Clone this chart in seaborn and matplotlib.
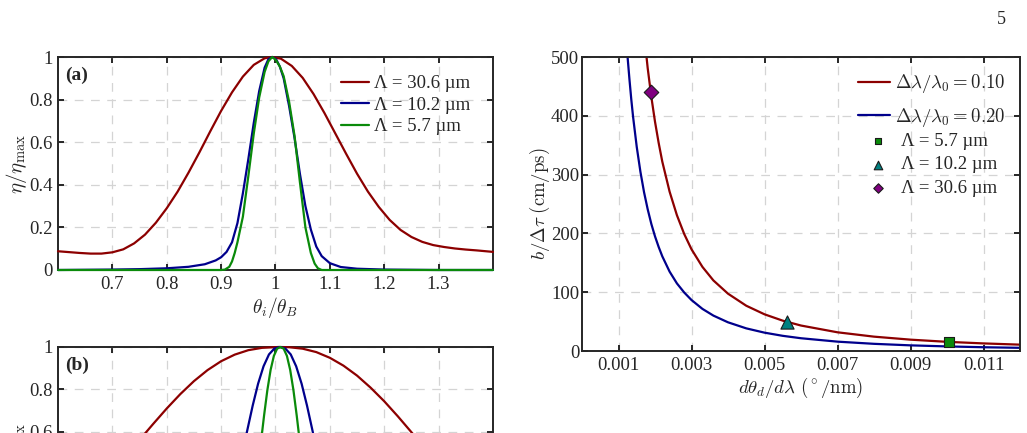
import numpy as np
import pandas as pd
import seaborn as sns
import matplotlib.pyplot as plt
from matplotlib.ticker import FuncFormatter

# ---- panel (a): normalised efficiency vs theta_i / theta_B ----
th_red_a = [0.60, 0.62, 0.64, 0.66, 0.68, 0.70, 0.72, 0.74, 0.76, 0.78, 0.80, 0.82, 0.84,
            0.86, 0.88, 0.90, 0.92, 0.94, 0.96, 0.98, 0.994, 1.01, 1.03, 1.05, 1.07, 1.09,
            1.11, 1.13, 1.15, 1.17, 1.19, 1.21, 1.23, 1.25, 1.27, 1.29, 1.31, 1.33, 1.35,
            1.37, 1.40]
eta_red_a = [0.088, 0.084, 0.080, 0.077, 0.077, 0.083, 0.097, 0.125, 0.166, 0.222, 0.290,
             0.368, 0.457, 0.552, 0.651, 0.747, 0.834, 0.908, 0.963, 0.994, 1.0, 0.992,
             0.958, 0.902, 0.826, 0.737, 0.641, 0.545, 0.452, 0.368, 0.296, 0.235, 0.188,
             0.155, 0.132, 0.117, 0.108, 0.101, 0.096, 0.092, 0.085]

th_blue_a = [0.60, 0.70, 0.75, 0.80, 0.84, 0.87, 0.89, 0.90, 0.91, 0.92, 0.93, 0.94, 0.95,
             0.96, 0.97, 0.98, 0.987, 0.994, 1.001, 1.008, 1.015, 1.025, 1.035, 1.045,
             1.055, 1.065, 1.075, 1.085, 1.10, 1.12, 1.15, 1.20, 1.30, 1.40]
eta_blue_a = [0.0, 0.002, 0.004, 0.008, 0.015, 0.027, 0.045, 0.06, 0.085, 0.13, 0.22, 0.36,
              0.52, 0.69, 0.84, 0.95, 0.99, 1.0, 0.99, 0.955, 0.90, 0.77, 0.62, 0.45, 0.30,
              0.19, 0.11, 0.065, 0.032, 0.014, 0.006, 0.002, 0.0, 0.0]

th_green_a = [0.60, 0.90, 0.907, 0.915, 0.92, 0.925, 0.93, 0.94, 0.95, 0.96, 0.97, 0.98,
              0.987, 0.994, 1.001, 1.008, 1.015, 1.025, 1.035, 1.045, 1.055, 1.065, 1.072,
              1.078, 1.085, 1.40]
eta_green_a = [0.0, 0.0, 0.002, 0.015, 0.04, 0.08, 0.13, 0.25, 0.44, 0.64, 0.81, 0.93,
               0.98, 1.0, 0.985, 0.955, 0.91, 0.79, 0.63, 0.41, 0.20, 0.08, 0.03, 0.008,
               0.0, 0.0]

# ---- panel (b) (only its top part is on the page) ----
th_red_b = [0.600, 0.625, 0.650, 0.675, 0.700, 0.725, 0.750, 0.775, 0.800, 0.825, 0.850,
            0.875, 0.900, 0.925, 0.950, 0.975, 1.006, 1.025, 1.050, 1.075, 1.100, 1.125,
            1.150, 1.175, 1.200, 1.225, 1.250, 1.275, 1.300, 1.325, 1.350, 1.375, 1.400]
eta_red_b = [0.175, 0.224, 0.280, 0.344, 0.413, 0.486, 0.562, 0.637, 0.710, 0.778, 0.839,
             0.891, 0.933, 0.964, 0.985, 0.996, 1.0, 0.999, 0.992, 0.976, 0.949, 0.912,
             0.865, 0.808, 0.744, 0.673, 0.598, 0.522, 0.448, 0.376, 0.310, 0.250, 0.197]

th_blue_b = [0.838, 0.868, 0.888, 0.908, 0.918, 0.928, 0.938, 0.948, 0.958, 0.968, 0.978,
             0.988, 0.998, 1.008, 1.018, 1.028, 1.038, 1.048, 1.058, 1.068, 1.078, 1.088,
             1.098, 1.108, 1.128, 1.148, 1.178]
eta_blue_b = [0.002, 0.022, 0.071, 0.181, 0.265, 0.368, 0.484, 0.606, 0.723, 0.827, 0.909,
              0.965, 0.993, 1.0, 0.993, 0.965, 0.909, 0.827, 0.723, 0.606, 0.484, 0.368,
              0.265, 0.181, 0.071, 0.022, 0.002]

th_green_b = [0.914, 0.934, 0.949, 0.959, 0.967, 0.973, 0.979, 0.985, 0.991, 0.997, 1.003,
              1.009, 1.015, 1.021, 1.027, 1.033, 1.039, 1.045, 1.051, 1.059, 1.069, 1.084,
              1.104]
eta_green_b = [0.002, 0.030, 0.128, 0.264, 0.417, 0.546, 0.677, 0.796, 0.892, 0.958, 0.992,
               1.0, 0.992, 0.958, 0.892, 0.796, 0.677, 0.546, 0.417, 0.264, 0.128, 0.030,
               0.002]

# ---- right panel: b/dtau vs dtheta_d/dlambda ----
disp = [0.0012, 0.00125, 0.0013, 0.00135, 0.0014, 0.0015, 0.0016, 0.0017, 0.0018, 0.0019,
        0.0020, 0.0021, 0.0022, 0.0024, 0.0026, 0.0028, 0.0030, 0.0033, 0.0036, 0.0040,
        0.0045, 0.0050, 0.0055, 0.0060, 0.0070, 0.0080, 0.0090, 0.0100, 0.0110, 0.0120]
speed_010 = [1083, 998, 923, 856, 796, 693, 609, 540, 481, 432, 390, 354, 322, 271, 231,
             199, 173, 143, 120, 97.5, 77, 62.4, 51.6, 43.3, 31.8, 24.4, 19.3, 15.6, 12.9,
             10.8]
speed_020 = [542, 499, 462, 428, 398, 347, 305, 270, 241, 216, 195, 177, 161, 135, 115,
             99.5, 86.7, 71.6, 60.2, 48.8, 38.5, 31.2, 25.8, 21.7, 15.9, 12.2, 9.6, 7.8,
             6.4, 5.4]

grating_labels = ['Λ = 5.7 µm', 'Λ = 10.2 µm', 'Λ = 30.6 µm']
grating_disp = [0.01006, 0.00563, 0.00188]
grating_speed = [15, 49, 440]
curve_labels = ['Λ = 30.6 µm', 'Λ = 10.2 µm', 'Λ = 5.7 µm']

RED = '#8c0000'
BLUE = '#00008c'
GREEN = '#0a8a0a'
INK = '#262626'

sns.set_theme(style='white')
plt.rcParams.update({
    'font.family': 'serif',
    'font.serif': ['Liberation Serif', 'DejaVu Serif'],
    'mathtext.fontset': 'cm',
    'font.size': 13.5,
    'axes.edgecolor': INK,
    'axes.linewidth': 1.4,
    'xtick.direction': 'in', 'ytick.direction': 'in',
    'xtick.top': True, 'ytick.right': True,
    'xtick.bottom': True, 'ytick.left': True,
    'xtick.major.size': 4, 'ytick.major.size': 4,
    'xtick.major.width': 1.4, 'ytick.major.width': 1.4,
    'xtick.color': INK, 'ytick.color': INK,
    'xtick.labelsize': 13.5, 'ytick.labelsize': 13.5,
    'xtick.major.pad': 4, 'ytick.major.pad': 4,
    'axes.labelcolor': INK,
    'text.color': INK,
})

fig = plt.figure(figsize=(10.27, 4.33), dpi=100)
W, H = 1027, 433


def box(l, t, r, b):
    return [l / W, 1 - b / H, (r - l) / W, (b - t) / H]


ax_a = fig.add_axes(box(58, 57, 493, 270))
ax_b = fig.add_axes(box(58, 347, 493, 559))
ax_r = fig.add_axes(box(582, 57, 1020, 351))

fmt = FuncFormatter(lambda v, p: '%g' % round(v, 4))
grid_kw = dict(color='#d4d4d4', lw=0.9, ls=(0, (7, 6)))

for ax, curves, tag in [
    (ax_a, [(th_red_a, eta_red_a, RED), (th_blue_a, eta_blue_a, BLUE),
            (th_green_a, eta_green_a, GREEN)], '(a)'),
    (ax_b, [(th_red_b, eta_red_b, RED), (th_blue_b, eta_blue_b, BLUE),
            (th_green_b, eta_green_b, GREEN)], '(b)'),
]:
    for (xs, ys, c), nm in zip(curves, curve_labels):
        sns.lineplot(x=xs, y=ys, ax=ax, color=c, lw=1.6, label=nm, estimator=None,
                     clip_on=False, zorder=3)
    ax.set_xlim(0.6, 1.4)
    ax.set_ylim(0, 1)
    ax.set_xticks([0.7, 0.8, 0.9, 1.0, 1.1, 1.2, 1.3])
    ax.set_yticks([0, 0.2, 0.4, 0.6, 0.8, 1.0])
    ax.xaxis.set_major_formatter(fmt)
    ax.yaxis.set_major_formatter(fmt)
    ax.grid(True, **grid_kw)
    ax.set_ylabel('$\\eta/\\eta_{\\max}$', fontsize=15, labelpad=0)
    ax.text(0.016, 0.955, tag, transform=ax.transAxes, va='top', ha='left',
            fontweight='bold', fontsize=14)
    for s in ax.spines.values():
        s.set_zorder(2.5)

ax_a.legend(loc='upper left', bbox_to_anchor=(0.651, 0.915), frameon=False,
            borderpad=0, borderaxespad=0, handlelength=1.5, handletextpad=0.25,
            labelspacing=0.24, fontsize=13.5)
ax_b.get_legend().remove()
ax_b.tick_params(labelbottom=False)
ax_a.set_xlabel('$\\theta_i/\\theta_B$', fontsize=14, labelpad=2)

# right panel
sns.lineplot(x=disp, y=speed_010, ax=ax_r, color=RED, lw=1.6, estimator=None,
             label='$\\Delta\\lambda/\\lambda_0 = 0.10$')
sns.lineplot(x=disp, y=speed_020, ax=ax_r, color=BLUE, lw=1.6, estimator=None,
             label='$\\Delta\\lambda/\\lambda_0 = 0.20$')
mk = [('s', GREEN, 55), ('^', '#008080', 90), ('D', '#800080', 55)]
for (m, c, s), xv, yv, lab in zip(mk, grating_disp, grating_speed, grating_labels):
    sns.scatterplot(x=[xv], y=[yv], ax=ax_r, marker=m, color=c, s=s, edgecolor='#1a1a1a',
                    linewidth=0.8, label=lab, zorder=4)

ax_r.set_xlim(0, 0.012)
ax_r.set_ylim(0, 500)
ax_r.set_xticks([0.001, 0.003, 0.005, 0.007, 0.009, 0.011])
ax_r.set_yticks([0, 100, 200, 300, 400, 500])
ax_r.xaxis.set_major_formatter(fmt)
ax_r.tick_params(axis='y', pad=2)
ax_r.grid(True, **grid_kw)
ax_r.set_xlabel('$d\\theta_d/d\\lambda\\ (^\\circ/\\mathrm{nm})$', fontsize=13.5, labelpad=2)
ax_r.set_ylabel('$b/\\Delta\\tau\\ \\mathrm{(cm/ps)}$', fontsize=13.5, labelpad=-1)

h, l = ax_r.get_legend_handles_labels()
leg1 = ax_r.legend(h[:2], l[:2], loc='upper left', bbox_to_anchor=(0.630, 0.948),
                   frameon=False, borderpad=0, borderaxespad=0, handlelength=1.7,
                   handletextpad=0.3, labelspacing=0.55, fontsize=13.5)
ax_r.add_artist(leg1)
ax_r.legend(h[2:], l[2:], loc='upper left', bbox_to_anchor=(0.655, 0.742), frameon=False,
            borderpad=0, borderaxespad=0, handlelength=1.0, handletextpad=0.7,
            labelspacing=0.34, fontsize=13.5, markerscale=0.65)

fig.text(0.9755, 0.975, '5', ha='center', va='top', fontsize=13)

fig.savefig('out.png', dpi=100)
